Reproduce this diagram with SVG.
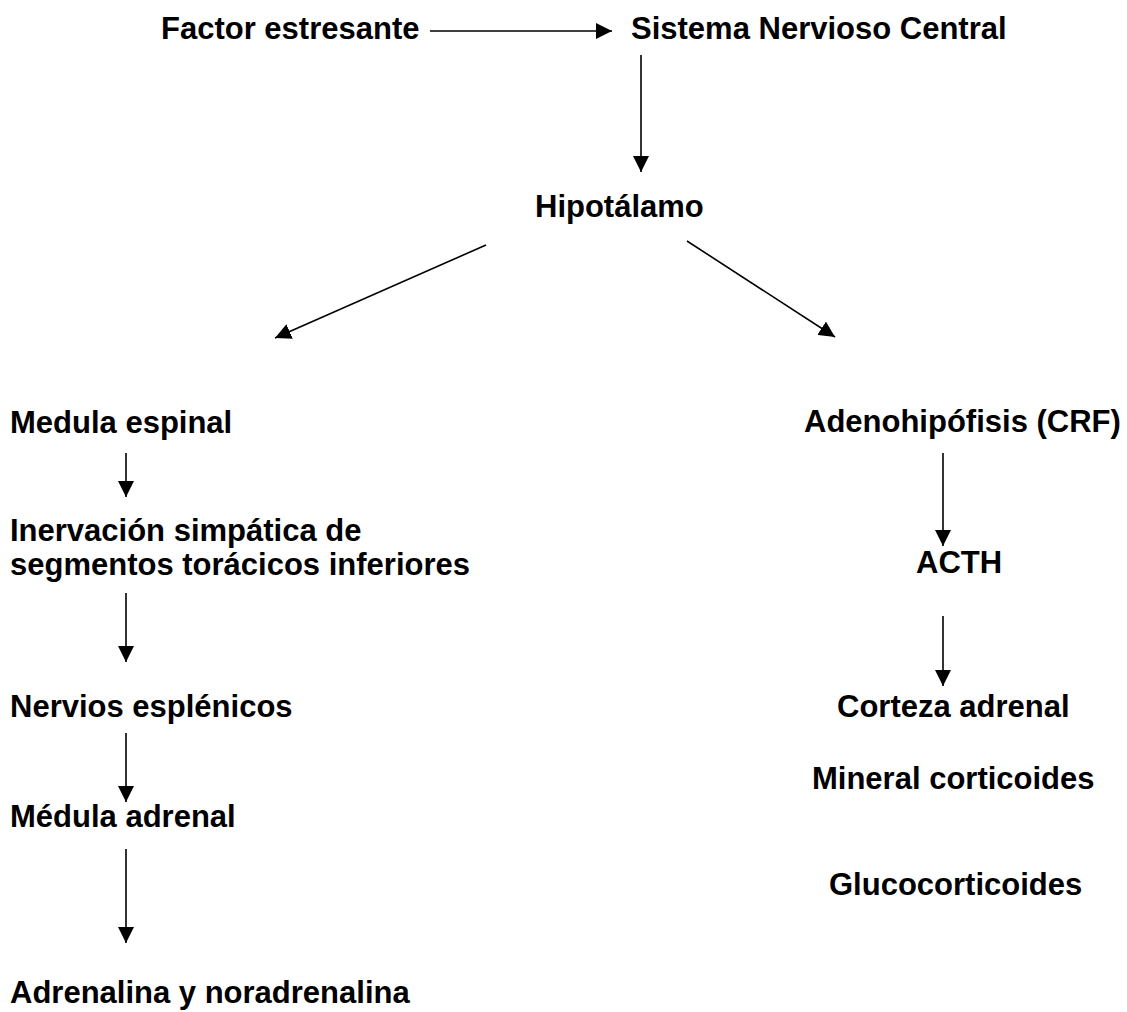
<svg xmlns="http://www.w3.org/2000/svg" width="1127" height="1012" viewBox="0 0 1127 1012">
<style>
text { font-family: "Liberation Sans", Arial, sans-serif; font-weight: bold; font-size: 31px; fill: #000; }
.c { stroke: #000; stroke-width: 1.6; fill: none; marker-end: url(#ah); }
</style>
<defs>
<marker id="ah" markerUnits="userSpaceOnUse" markerWidth="16" markerHeight="16" refX="15" refY="7.5" orient="auto" viewBox="0 0 15 15">
<path d="M0,0 L15,7.5 L0,15 z" fill="#000"/>
</marker>
</defs>
<rect width="1127" height="1012" fill="#fff"/>
<g id="connectors">
<line class="c" x1="430" y1="31" x2="612" y2="31"/>
<line class="c" x1="641" y1="55" x2="641" y2="172"/>
<line class="c" x1="486" y1="245" x2="275" y2="338"/>
<line class="c" x1="687" y1="241" x2="835" y2="337"/>
<line class="c" x1="126" y1="453" x2="126" y2="497"/>
<line class="c" x1="126" y1="593" x2="126" y2="662"/>
<line class="c" x1="126" y1="733" x2="126" y2="802"/>
<line class="c" x1="126" y1="849" x2="126" y2="943"/>
<line class="c" x1="943" y1="453" x2="943" y2="546"/>
<line class="c" x1="943" y1="616" x2="943" y2="686"/>
</g>
<g id="factor"><text x="161" y="39">Factor estresante</text></g>
<g id="snc"><text x="631" y="39">Sistema Nervioso Central</text></g>
<g id="hipotalamo"><text x="535" y="217">Hipotálamo</text></g>
<g id="medula-espinal"><text x="10" y="433">Medula espinal</text></g>
<g id="inervacion"><text x="10" y="541">Inervación simpática de</text><text x="10" y="575">segmentos torácicos inferiores</text></g>
<g id="nervios"><text x="10" y="717">Nervios esplénicos</text></g>
<g id="medula-adrenal"><text x="10" y="827">Médula adrenal</text></g>
<g id="adrenalina"><text x="10" y="1003">Adrenalina y noradrenalina</text></g>
<g id="adenohipofisis"><text x="804" y="432">Adenohipófisis (CRF)</text></g>
<g id="acth"><text x="916" y="573">ACTH</text></g>
<g id="corteza"><text x="837" y="717">Corteza adrenal</text></g>
<g id="mineral"><text x="812" y="789">Mineral corticoides</text></g>
<g id="gluco"><text x="829" y="895">Glucocorticoides</text></g>
</svg>
